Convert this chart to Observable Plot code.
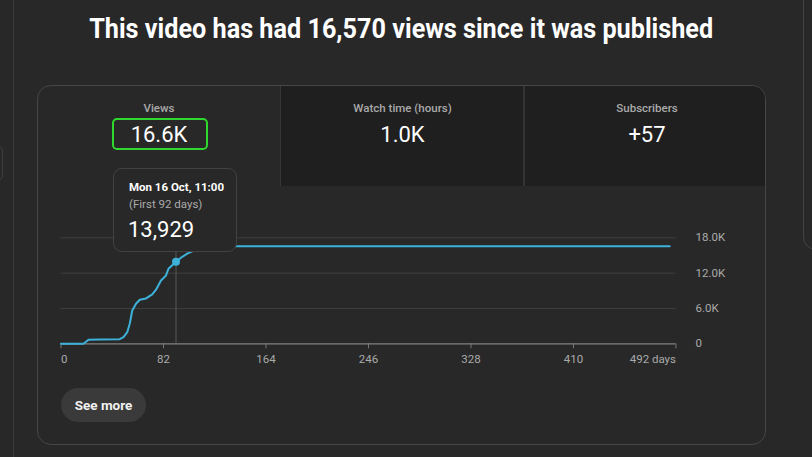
<!DOCTYPE html>
<html><head><meta charset="utf-8">
<script src="https://cdn.jsdelivr.net/npm/d3@7"></script>
<script src="https://cdn.jsdelivr.net/npm/@observablehq/plot@0.6"></script>
<style>
html,body{margin:0;padding:0;background:#282828;width:812px;height:457px;overflow:hidden;font-family:Roboto,"Noto Sans",sans-serif;color:#fff;}
#page{position:relative;width:812px;height:457px;}
.abs{position:absolute;box-sizing:border-box;}
#leftline{left:13px;top:0;width:1px;height:457px;background:#3a3a3a;}
#leftnub{left:-10px;top:145px;width:13px;height:36px;border:1px solid #3e3e3e;border-radius:6px;}
#rightcard{left:803px;top:-20px;width:40px;height:270px;border:1px solid #444;border-radius:13px;}
#title{left:-5px;top:13px;width:812px;text-align:center;font-weight:700;font-size:27px;white-space:nowrap;}
#title span{display:inline-block;transform-origin:center;}
#card{left:37px;top:85px;width:729px;height:360px;border:1px solid #464646;border-radius:14px;overflow:hidden;}
.tab{position:absolute;top:0;height:100px;text-align:center;}
.tab .lab{position:absolute;left:0;right:0;top:15px;font-size:11.5px;color:#aaa;font-weight:500;}
.tab .val{position:absolute;left:0;right:0;top:36px;font-size:22px;color:#fff;}
#tab1{left:0;width:242px;}
#tab2{left:242px;width:243px;background:#1f1f1f;border-left:1px solid #363636;}
#tab3{left:485px;width:244px;background:#1f1f1f;border-left:2px solid #333;}
#greenbox{left:74px;top:32px;width:96px;height:32px;border:2px solid #2ed82e;border-radius:5px;}
#seemore{left:23px;top:302px;width:85px;height:34px;border-radius:17px;background:#3a3a3a;font-weight:700;font-size:13.5px;text-align:center;line-height:34px;color:#f1f1f1;}
#chart{left:40px;top:220px;}
#tip{top:168px;width:124px;height:84px;background:#282828;border:1px solid #424242;border-radius:9px;}
#tip .d{position:absolute;left:15px;top:11px;font-size:11.5px;font-weight:700;color:#fff;}
#tip .s{position:absolute;left:15px;top:28px;font-size:11.5px;color:#aaa;}
#tip .v{position:absolute;left:14px;top:48px;font-size:22px;color:#fff;}
</style></head><body>
<div id="page">
  <div class="abs" id="leftline"></div>
  <div class="abs" id="leftnub"></div>
  <div class="abs" id="rightcard"></div>
  <div class="abs" id="title"><span id="titletext"></span></div>
  <div class="abs" id="card">
    <div class="tab" id="tab1"><div class="lab"></div><div class="val"></div></div>
    <div class="tab" id="tab2"><div class="lab"></div><div class="val"></div></div>
    <div class="tab" id="tab3"><div class="lab"></div><div class="val"></div></div>
    <div class="abs" id="greenbox"></div>
    <div class="abs" id="seemore">See more</div>
  </div>
  <div class="abs" id="chart"></div>
  <div class="abs" id="tip"><div class="d"></div><div class="s"></div><div class="v"></div></div>
</div>
<script>
// ---- data ----
const titleText = "This video has had 16,570 views since it was published";
const tabLabels = ["Views", "Watch time (hours)", "Subscribers"];
const tabValues = ["16.6K", "1.0K", "+57"];
const days  = [0, 18, 22, 30, 47, 50, 53, 55, 57, 60, 63, 68, 73, 76, 80, 84, 86, 92, 96, 101, 108, 115, 125, 487];
const views = [0, 0, 680, 740, 780, 1120, 1970, 3400, 5660, 6800, 7480, 7700, 8380, 9180, 10760, 11610, 12750, 13929, 14620, 15300, 16000, 16400, 16570, 16570];
const xTicks = [0, 82, 164, 246, 328, 410, 492];
const xTickLabels = ["0", "82", "164", "246", "328", "410", "492 days"];
const yTicks = [0, 6000, 12000, 18000];
const yTickLabels = ["0", "6.0K", "12.0K", "18.0K"];
const tipDay = 92;
const tipViews = 13929;
const tipDate = "Mon 16 Oct, 11:00";
const tipSub = "(First 92 days)";
const tipValue = "13,929";

// ---- header / tabs ----
const tt = document.getElementById("titletext");
tt.textContent = titleText;
const w = tt.getBoundingClientRect().width;
tt.style.transform = `scaleX(${624 / w})`;
["tab1","tab2","tab3"].forEach((id, i) => {
  const t = document.getElementById(id);
  t.querySelector(".lab").textContent = tabLabels[i];
  t.querySelector(".val").textContent = tabValues[i];
});

// ---- chart ----
const data = days.map((d, i) => ({day: d, views: views[i]}));
const lineColor = "#3cb2da";
const font = "Roboto, sans-serif";
const chart = Plot.plot({
  width: 740, height: 150,
  marginLeft: 20.5, marginRight: 104.5, marginTop: 17.3, marginBottom: 26.7,
  style: {background: "transparent", color: "#aaa", fontFamily: font, fontSize: "11px", overflow: "visible"},
  x: {domain: [0, 492], axis: null},
  y: {domain: [0, 18000], axis: null},
  marks: [
    Plot.ruleY(yTicks.filter(v => v > 0), {stroke: "#3f3f3f", strokeWidth: 1}),
    Plot.ruleX([tipDay], {stroke: "#575757", strokeWidth: 1}),
    Plot.axisX({ticks: xTicks, tickSize: 5, tickFormat: () => "", stroke: "#777", label: null}),
    Plot.ruleY([0], {stroke: "#808080", strokeWidth: 1.2}),
    Plot.line(data, {x: "day", y: "views", stroke: lineColor, strokeWidth: 2}),
    Plot.dot([{day: tipDay, views: tipViews}], {x: "day", y: "views", r: 4, fill: lineColor}),
    Plot.text([0], {x: d => xTicks[d], y: 0, text: d => xTickLabels[d], dy: 15.5, textAnchor: "start", fill: "#aaa", fontSize: 11.5}),
    Plot.text([1,2,3,4,5], {x: d => xTicks[d], y: 0, text: d => xTickLabels[d], dy: 15.5, textAnchor: "middle", fill: "#aaa", fontSize: 11.5}),
    Plot.text([6], {x: d => xTicks[d], y: 0, text: d => xTickLabels[d], dy: 15.5, textAnchor: "end", fill: "#aaa", fontSize: 11.5}),
    Plot.text(yTicks.map((v, i) => i), {frameAnchor: "right", y: i => yTicks[i], text: i => yTickLabels[i], dx: 19.5, textAnchor: "start", fill: "#aaa", fontSize: 11.5})
  ]
});
document.getElementById("chart").appendChild(chart);

// tooltip positioned from the chart's x scale
const tip = document.getElementById("tip");
tip.querySelector(".d").textContent = tipDate;
tip.querySelector(".s").textContent = tipSub;
tip.querySelector(".v").textContent = tipValue;
const px = 40 + chart.scale("x").apply(tipDay);
tip.style.left = (px - 62.5) + "px";
</script>
</body></html>
